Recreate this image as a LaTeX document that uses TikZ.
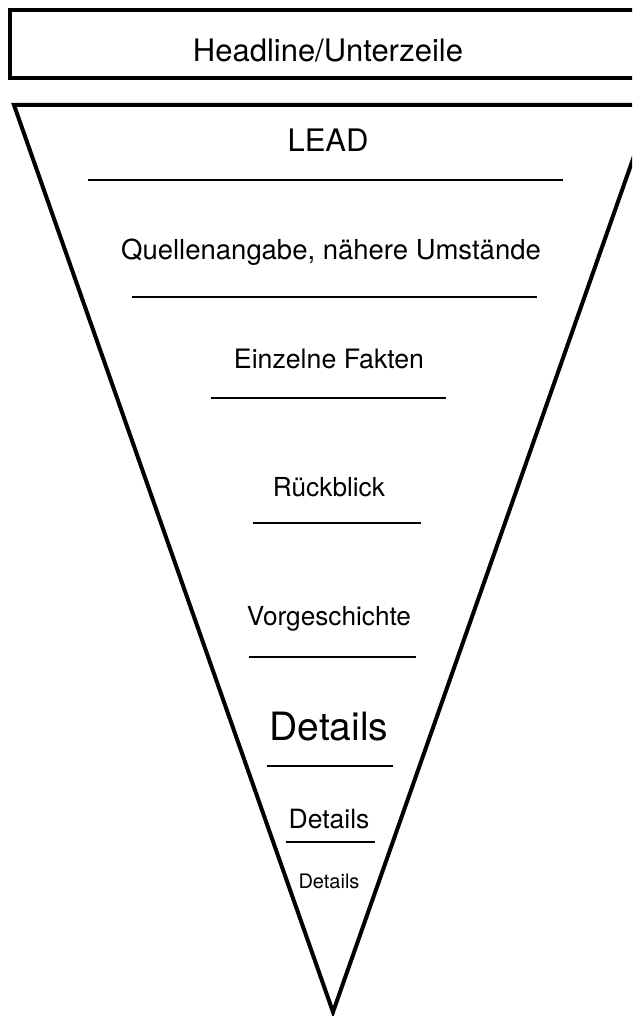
\documentclass[tikz,border=0pt]{standalone}
\usepackage{fontspec}
\setmainfont{TeX Gyre Heros}
\usetikzlibrary{positioning}
\tikzset{every node/.append style={anchor=base,inner sep=0pt}}
\tikzset{outline/.style={line width=4pt,line join=miter}}
\tikzset{rule/.style={line width=2.2pt}}
\newcommand{\txt}[1]{\fontsize{#1}{#1}\selectfont}

\begin{document}
\begin{tikzpicture}[x=1pt,y=-1pt]
  \useasboundingbox (0,0) rectangle (632,1016);
  \clip (0,0) rectangle (632,1016);
  \draw[outline] (10,10) rectangle (660,78);
  \draw[outline] (14,105)--(652,105)--(333,1012)--cycle;
  \foreach \y/\a/\b in {180/88/563, 297/132/537, 398/211/446, 523/253/421,
                        657/249/416, 766/267/393, 842/286/375}{
    \draw[rule] (\a,\y)--(\b,\y);
  };
  \node (head) at (328,62) {\txt{31}Headline/Unterzeile};
  \node (lead) at (328,152) {\txt{31}LEAD};
  \node (quelle) at (331,259) {\txt{27.5}Quellenangabe, nähere Umstände};
  \node (fakten) at (329,368) {\txt{26.7}Einzelne Fakten};
  \node (rueck) at (329,496) {\txt{26.2}Rückblick};
  \node (vorg) at (329,625) {\txt{26.2}Vorgeschichte};
  \node (detA) at (329,740) {\txt{39}Details};
  \node (detB) at (329,828) {\txt{26.5}Details};
  \node (detC) at (329,888) {\txt{20}Details};
\end{tikzpicture}
\end{document}
